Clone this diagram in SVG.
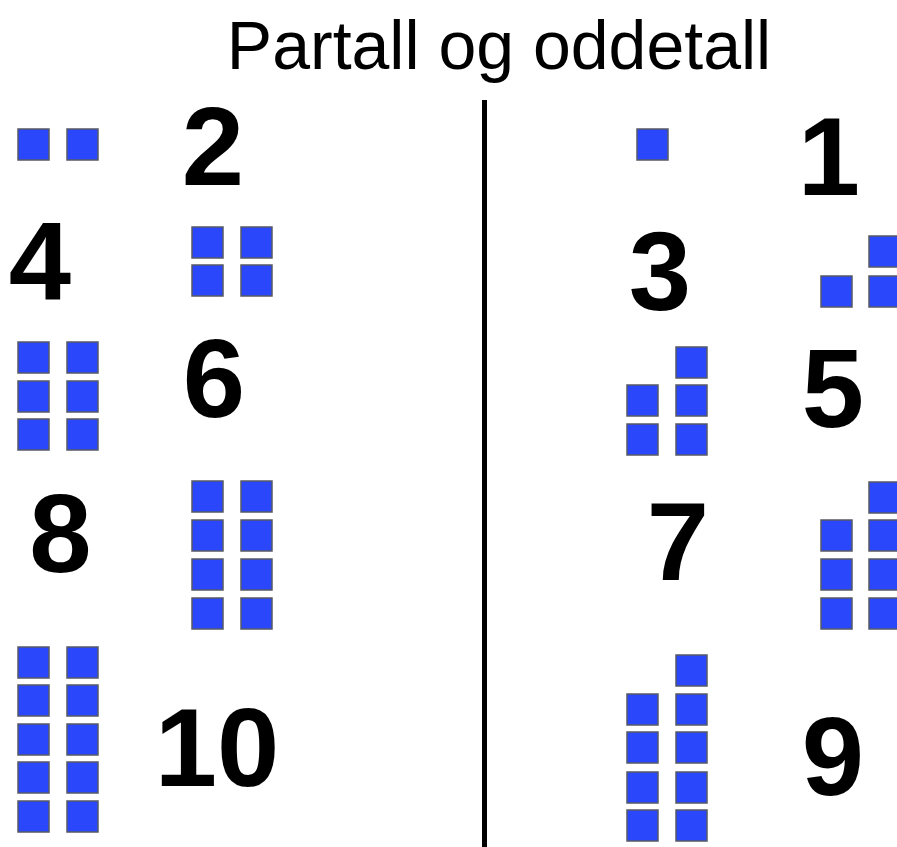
<svg xmlns="http://www.w3.org/2000/svg" xmlns:xlink="http://www.w3.org/1999/xlink" width="897" height="847" viewBox="0 0 897 847">
<style>
.sq{fill:#2b47fb;stroke:#555a66;stroke-width:1.5}
.num{font-family:"Liberation Sans",Arial,sans-serif;font-weight:bold;font-size:112px;fill:#000;text-anchor:middle}
.title{font-family:"Liberation Sans",Arial,sans-serif;font-size:68px;fill:#000;text-anchor:middle}
</style>
<defs>
<rect id="s" class="sq" width="31" height="31"/>
</defs>
<rect width="897" height="847" fill="#fff"/>
<text class="title" x="499" y="69">Partall og oddetall</text>
<line x1="484.5" y1="100" x2="484.5" y2="847" stroke="#000" stroke-width="5"/>

<g id="n2">
<use xlink:href="#s" x="18" y="129"/><use xlink:href="#s" x="67" y="129"/>
<text class="num" x="213" y="185">2</text>
</g>
<g id="n4">
<text class="num" x="40" y="300">4</text>
<use xlink:href="#s" x="192" y="227"/><use xlink:href="#s" x="241" y="227"/>
<use xlink:href="#s" x="192" y="265"/><use xlink:href="#s" x="241" y="265"/>
</g>
<g id="n6">
<use xlink:href="#s" x="18" y="342"/><use xlink:href="#s" x="67" y="342"/>
<use xlink:href="#s" x="18" y="381"/><use xlink:href="#s" x="67" y="381"/>
<use xlink:href="#s" x="18" y="419"/><use xlink:href="#s" x="67" y="419"/>
<text class="num" x="214" y="417">6</text>
</g>
<g id="n8">
<text class="num" x="60.5" y="572">8</text>
<use xlink:href="#s" x="192" y="481"/><use xlink:href="#s" x="241" y="481"/>
<use xlink:href="#s" x="192" y="520"/><use xlink:href="#s" x="241" y="520"/>
<use xlink:href="#s" x="192" y="559"/><use xlink:href="#s" x="241" y="559"/>
<use xlink:href="#s" x="192" y="598"/><use xlink:href="#s" x="241" y="598"/>
</g>
<g id="n10">
<use xlink:href="#s" x="18" y="647"/><use xlink:href="#s" x="67" y="647"/>
<use xlink:href="#s" x="18" y="685"/><use xlink:href="#s" x="67" y="685"/>
<use xlink:href="#s" x="18" y="724"/><use xlink:href="#s" x="67" y="724"/>
<use xlink:href="#s" x="18" y="762"/><use xlink:href="#s" x="67" y="762"/>
<use xlink:href="#s" x="18" y="801"/><use xlink:href="#s" x="67" y="801"/>
<text class="num" x="217" y="786">10</text>
</g>

<g id="n1">
<use xlink:href="#s" x="637" y="129"/>
<text class="num" x="829" y="195">1</text>
</g>
<g id="n3">
<text class="num" x="660" y="310">3</text>
<use xlink:href="#s" x="821" y="276"/>
<use xlink:href="#s" x="869" y="236"/><use xlink:href="#s" x="869" y="276"/>
</g>
<g id="n5">
<use xlink:href="#s" x="627" y="385"/><use xlink:href="#s" x="627" y="424"/>
<use xlink:href="#s" x="676" y="347"/><use xlink:href="#s" x="676" y="385"/><use xlink:href="#s" x="676" y="424"/>
<text class="num" x="833" y="427">5</text>
</g>
<g id="n7">
<text class="num" x="678" y="580">7</text>
<use xlink:href="#s" x="821" y="520"/><use xlink:href="#s" x="821" y="559"/><use xlink:href="#s" x="821" y="598"/>
<use xlink:href="#s" x="869" y="482"/><use xlink:href="#s" x="869" y="520"/><use xlink:href="#s" x="869" y="559"/><use xlink:href="#s" x="869" y="598"/>
</g>
<g id="n9">
<use xlink:href="#s" x="627" y="694"/><use xlink:href="#s" x="627" y="732"/><use xlink:href="#s" x="627" y="772"/><use xlink:href="#s" x="627" y="810"/>
<use xlink:href="#s" x="676" y="655"/><use xlink:href="#s" x="676" y="694"/><use xlink:href="#s" x="676" y="732"/><use xlink:href="#s" x="676" y="772"/><use xlink:href="#s" x="676" y="810"/>
<text class="num" x="833" y="795">9</text>
</g>
<g id="connectors"></g>
</svg>
